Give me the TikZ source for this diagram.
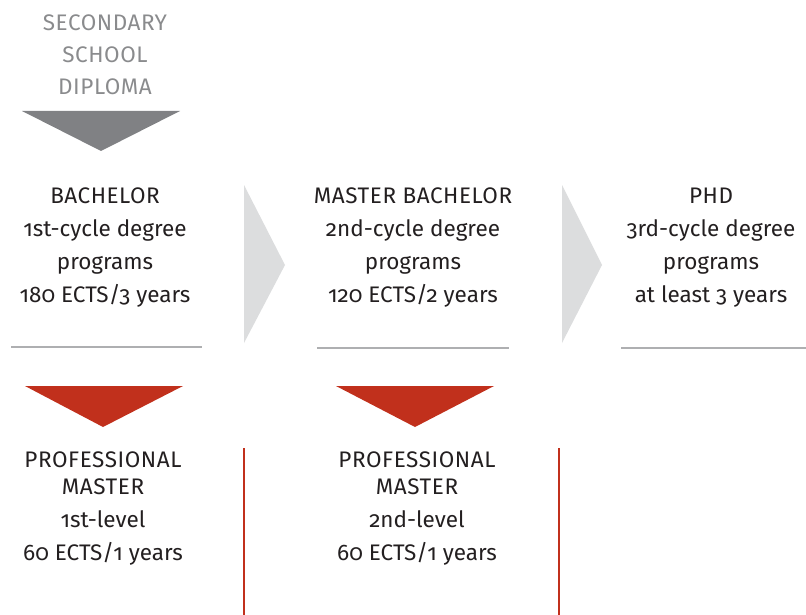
\documentclass[tikz,border=0pt]{standalone}
\usepackage{fontspec}
\setmainfont{Fira Sans}[Numbers=OldStyle]
\newfontfamily\capsfont{Fira Sans}[Numbers=OldStyle, LetterSpace=2.5]
\definecolor{txt}{HTML}{231F20}
\definecolor{subtxt}{HTML}{8A8B8D}
\definecolor{darkgray}{HTML}{808184}
\definecolor{lightgray}{HTML}{DCDDDE}
\definecolor{rulegray}{HTML}{AEAFB1}
\definecolor{accent}{HTML}{C1301C}
\tikzset{
  label/.style={align=center, inner sep=0pt, text=txt, font=\fontsize{22.5}{33}\selectfont},
  sublabel/.style={label, text=subtxt, font=\fontsize{22.5}{32}\selectfont},
  rulebar/.style={draw=rulegray, line width=2.5pt},
  redbar/.style={draw=accent, line width=2.2pt},
}
\begin{document}
\begin{tikzpicture}[x=1pt,y=-1pt]
\useasboundingbox (0,0) rectangle (806,615);
% secondary school
\node[sublabel] (sec) at (105,55) {\capsfont SECONDARY\\\capsfont SCHOOL\\\capsfont DIPLOMA};
\fill[darkgray] (22,111) -- (180,111) -- (101,151) -- cycle;
% chevrons
\fill[lightgray] (244,185) -- (285,265) -- (244,343) -- cycle;
\fill[lightgray] (562,185) -- (602,265) -- (562,343) -- cycle;
% main blocks
\node[label] (bach) at (105,248) {{\capsfont BACHELOR}\\1st-cycle degree\\programs\\180 ECTS/3 years};
\node[label] (mast) at (413,248) {{\capsfont MASTER BACHELOR}\\2nd-cycle degree\\programs\\120 ECTS/2 years};
\node[label] (phd) at (711,248) {{\capsfont PHD}\\3rd-cycle degree\\programs\\at least 3 years};
% rules
\coordinate (r1a) at (11,347); \coordinate (r1b) at (202,347);
\coordinate (r2a) at (317,348); \coordinate (r2b) at (509,348);
\coordinate (r3a) at (621,348); \coordinate (r3b) at (806,348);
\draw[rulebar] (r1a) -- (r1b);
\draw[rulebar] (r2a) -- (r2b);
\draw[rulebar] (r3a) -- (r3b);
% red triangles
\fill[accent] (25,386) -- (183,386) -- (103,427) -- cycle;
\fill[accent] (336,386) -- (494,386) -- (415,427) -- cycle;
% professional masters
\node[label] (pm1) at (103,509) {{\capsfont PROFESSIONAL}\\[-6pt]{\capsfont MASTER}\\1st-level\\60 ECTS/1 years};
\node[label] (pm2) at (417,509) {{\capsfont PROFESSIONAL}\\[-6pt]{\capsfont MASTER}\\2nd-level\\60 ECTS/1 years};
% red bars
\coordinate (v1a) at (244,448); \coordinate (v1b) at (244,615);
\coordinate (v2a) at (559,448); \coordinate (v2b) at (559,615);
\draw[redbar] (v1a) -- (v1b);
\draw[redbar] (v2a) -- (v2b);
\end{tikzpicture}
\end{document}
